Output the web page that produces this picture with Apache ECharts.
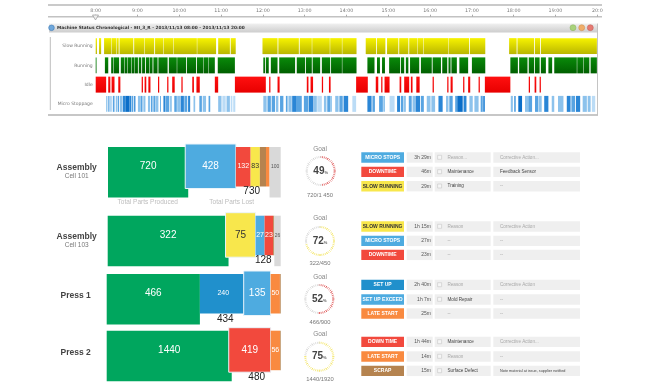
<!DOCTYPE html>
<html>
<head>
<meta charset="utf-8">
<style>
  html, body { margin: 0; padding: 0; background: #fff; }
  /* the source is a soft, upscaled screenshot */
  #chart { width: 653px; height: 392px; filter: blur(0.4px); }
</style>
<script src="https://cdn.jsdelivr.net/npm/echarts@6/dist/echarts.min.js"></script>
</head>
<body>
<div id="chart"></div>
<script>
// machine status timeline, clock hours [start, end]
const timeTicks = ['8:00', '9:00', '10:00', '11:00', '12:00', '13:00', '14:00', '15:00', '16:00', '17:00', '18:00', '19:00', '20:0'];
const statusRows = ['Slow Running', 'Running', 'Idle', 'Micro Stoppage'];

const slowRunning = [
  [8.00, 8.03], [8.08, 8.13], [8.20, 8.37], [8.38, 8.49], [8.50, 8.55], [8.57, 8.90], [8.92, 9.16], [9.17, 9.40],
  [9.42, 9.62], [9.63, 9.86], [9.87, 10.42], [10.43, 10.88], [10.93, 11.21], [11.23, 11.35], [11.99, 12.35],
  [12.37, 12.86], [12.88, 13.17], [13.18, 13.60], [13.61, 13.89], [13.90, 14.24], [14.46, 14.71], [14.73, 14.93],
  [14.97, 15.24], [15.26, 15.48], [15.50, 15.70], [15.71, 15.84], [15.85, 16.44], [16.45, 16.93], [16.95, 17.32],
  [17.89, 18.07], [18.09, 18.49], [18.51, 18.63], [18.65, 19.99]
];
const running = [
  [8.00, 8.02], [8.22, 8.30], [8.37, 8.42], [8.43, 8.56], [8.60, 8.68], [8.69, 8.76], [8.77, 8.85], [8.86, 8.93],
  [8.94, 9.01], [9.03, 9.09], [9.11, 9.18], [9.20, 9.28], [9.29, 9.36], [9.38, 9.48], [9.50, 9.72], [9.75, 9.94],
  [9.95, 10.16], [10.18, 10.40], [10.42, 10.58], [10.59, 10.70], [10.71, 10.85], [10.92, 11.33], [12.01, 12.05],
  [12.07, 12.14], [12.19, 12.35], [12.39, 12.77], [12.81, 13.01], [13.03, 13.17], [13.19, 13.37], [13.41, 13.61],
  [13.63, 13.89], [13.90, 14.24], [14.50, 14.67], [14.73, 14.80], [14.85, 14.92], [15.02, 15.28], [15.30, 15.38],
  [15.42, 15.48], [15.52, 15.74], [15.78, 16.04], [16.06, 16.26], [16.29, 16.41], [16.44, 16.49], [16.51, 16.64],
  [16.70, 16.91], [17.00, 17.32], [17.92, 18.10], [18.13, 18.33], [18.36, 18.49], [18.51, 18.62], [18.65, 18.77],
  [18.83, 18.92], [18.97, 19.51], [19.52, 19.67], [19.68, 19.81], [19.84, 19.99]
];
const idle = [
  [8.00, 8.25], [8.30, 8.35], [8.38, 8.45], [8.54, 8.59], [9.10, 9.13], [9.17, 9.21], [9.26, 9.31], [9.49, 9.52],
  [9.71, 9.74], [9.83, 9.89], [10.05, 10.08], [10.31, 10.35], [10.41, 10.49], [10.85, 10.93], [11.33, 12.07],
  [12.15, 12.18], [12.35, 12.40], [13.05, 13.09], [13.14, 13.20], [13.41, 13.44], [13.58, 13.62], [14.23, 14.51],
  [14.70, 14.76], [14.83, 14.86], [14.91, 15.03], [15.27, 15.31], [15.38, 15.50], [15.54, 15.58], [15.67, 15.75],
  [16.06, 16.09], [16.41, 16.44], [16.49, 16.54], [16.79, 16.82], [16.91, 16.96], [17.16, 17.19], [17.31, 17.92],
  [18.36, 18.39], [18.50, 18.54], [18.62, 18.65]
];
// third number: how many stops fall in the span (1..5)
const microStoppage = [
  [8.25, 8.28, 2], [8.30, 8.33, 3], [8.35, 8.38, 2], [8.41, 8.45, 3], [8.48, 8.52, 2], [8.53, 8.56, 3], [8.58, 8.64, 2],
  [8.65, 8.71, 4], [8.71, 8.81, 5], [8.81, 8.85, 4], [8.86, 8.90, 3], [8.92, 8.95, 4], [9.01, 9.06, 2], [9.07, 9.12, 3],
  [9.14, 9.19, 2], [9.25, 9.30, 2], [9.32, 9.36, 3], [9.38, 9.43, 3], [9.44, 9.50, 2], [9.54, 9.56, 3], [9.62, 9.67, 4],
  [9.68, 9.76, 3], [9.78, 9.82, 2], [9.88, 9.94, 3], [9.95, 10.02, 2], [10.03, 10.11, 4], [10.12, 10.19, 3], [10.21, 10.26, 4],
  [10.34, 10.38, 2], [10.48, 10.54, 3], [10.56, 10.64, 2], [10.70, 10.74, 3], [10.93, 11.01, 2], [11.03, 11.11, 1],
  [11.13, 11.21, 2], [11.23, 11.27, 1], [11.29, 11.34, 1], [12.01, 12.09, 2], [12.11, 12.19, 3], [12.21, 12.29, 3],
  [12.31, 12.37, 2], [12.41, 12.49, 3], [12.55, 12.59, 3], [12.61, 12.69, 2], [12.70, 12.81, 4], [12.81, 12.93, 3],
  [12.98, 13.09, 3], [13.10, 13.21, 4], [13.22, 13.29, 2], [13.30, 13.41, 1], [13.46, 13.52, 2], [13.54, 13.61, 3],
  [13.61, 13.65, 2], [13.73, 13.81, 2], [13.83, 13.91, 3], [13.93, 14.04, 4], [14.14, 14.23, 1], [14.50, 14.60, 4],
  [14.62, 14.68, 3], [14.78, 14.87, 3], [14.88, 14.92, 2], [15.03, 15.15, 1], [15.21, 15.28, 4], [15.30, 15.36, 3],
  [15.37, 15.42, 2], [15.49, 15.56, 3], [15.58, 15.64, 2], [15.65, 15.76, 4], [15.78, 15.85, 3], [15.92, 16.01, 2],
  [16.03, 16.12, 2], [16.20, 16.30, 4], [16.38, 16.44, 2], [16.46, 16.54, 3], [16.60, 16.65, 3], [16.65, 16.78, 5],
  [16.80, 16.87, 4], [16.94, 17.02, 2], [17.06, 17.16, 2], [17.21, 17.26, 3], [17.27, 17.31, 4], [17.93, 17.98, 2],
  [18.01, 18.05, 3], [18.11, 18.20, 5], [18.27, 18.35, 2], [18.35, 18.44, 3], [18.51, 18.59, 3], [18.60, 18.67, 2],
  [18.73, 18.83, 4], [18.91, 18.97, 2], [19.06, 19.19, 2], [19.27, 19.36, 4], [19.38, 19.47, 3], [19.49, 19.59, 4],
  [19.65, 19.75, 2], [19.77, 19.84, 2], [19.87, 19.95, 1]
];

// parts bars: what each block shows, and how long it is drawn
const cell101Labels = ['720', '428', '132', '83', '', '', '100'];
const cell101Lengths = [720, 428, 132, 83, 55, 32, 100];
const cell101Kinds = ['produced', 'micro', 'down', 'slow', 'scrap', 'late', 'open'];

const cell103Labels = ['322', '75', '27', '23', '', '26'];
const cell103Lengths = [322, 72, 24, 23, 3, 17];
const cell103Kinds = ['produced', 'slow', 'micro', 'down', 'scrap', 'open'];

const press1Labels = ['466', '240', '135', '50', ''];
const press1Lengths = [482, 242, 124, 48, 4];
const press1Kinds = ['produced', 'setup', 'micro', 'late', 'scrap'];

const press2Labels = ['1440', '419', '56', ''];
const press2Lengths = [1440, 449, 107, 8];
const press2Kinds = ['produced', 'down', 'late', 'scrap'];

const lostTotals = ['730', '128', '434', '480'];
const goalPercents = [49, 72, 52, 75];
const goalTexts = ['720/1 450', '322/450', '466/900', '1440/1920'];

// reason table
const badgeNames = ['MICRO STOPS', 'DOWNTIME', 'SLOW RUNNING', 'SLOW RUNNING', 'MICRO STOPS', 'DOWNTIME', 'SET UP', 'SET UP EXCEED', 'LATE START', 'DOWN TIME', 'LATE START', 'SCRAP'];
const badgeKinds = ['micro', 'down', 'slow', 'slow', 'micro', 'down', 'setup', 'micro', 'late', 'down', 'late', 'scrap'];
const durations = ['3h 29m', '46m', '29m', '1h 15m', '27m', '23m', '2h 40m', '1h 7m', '25m', '1h 44m', '14m', '15m'];
const reasons = ['Reason...', 'Maintenance', 'Training', 'Reason', '--', '--', 'Reason', 'Mold Repair', '--', 'Maintenance', 'Reason', 'Surface Defect'];
const actions = ['Corrective Action...', 'Feedback Sensor', '--', 'Corrective Action', '--', '--', 'Corrective Action', '--', '--', 'Corrective Action...', '--', 'Note material at issue, supplier notified'];

const colors = {
  produced: '#00A65E',
  micro: '#4EABE0',
  setup: '#2090CC',
  down: '#F2493D',
  slow: '#F8E74C',
  scrap: '#B5834F',
  late: '#F98A40',
  open: '#D9D9D9'
};
const stopShades = ['#BBDCF6', '#8CC2EC', '#58A4E2', '#2A86D6', '#0A6EC8'];
const sans = '"Liberation Sans", Arial, sans-serif';

const gradient = (top, bottom) => new echarts.graphic.LinearGradient(0, 0, 0, 1, [
  { offset: 0, color: top },
  { offset: 1, color: bottom }
]);
const rowFills = [
  gradient('#F7F300', '#B9B600'),
  gradient('#0A8A0A', '#005F00'),
  gradient('#FF1010', '#E80000')
];

function renderSpan(params, api) {
  const row = api.value(2);
  const a = api.coord([api.value(0), row]);
  const b = api.coord([api.value(1), row]);
  const h = api.size([0, 1])[1] * 0.83;
  const count = api.value(3);
  return {
    type: 'rect',
    shape: { x: a[0], y: a[1] - h / 2, width: b[0] - a[0], height: h },
    style: { fill: row === 3 ? stopShades[count - 1] : rowFills[row] }
  };
}

function spanSeries(spans, row) {
  return {
    type: 'custom',
    xAxisIndex: 0,
    yAxisIndex: 0,
    silent: true,
    renderItem: renderSpan,
    encode: { x: [0, 1], y: 2 },
    data: spans.map(s => [s[0], s[1], row, s[2] || 0])
  };
}

// one stacked row of blocks. produced runs taller, the biggest loss pops out
function partsSeries(axis, lengths, labels, kinds, pop) {
  const data = [];
  let sum = 0;
  lengths.forEach((len, i) => {
    data.push([sum, sum + len, i]);
    sum += len;
  });
  return {
    type: 'custom',
    xAxisIndex: axis,
    yAxisIndex: axis,
    silent: true,
    renderItem(params, api) {
      const i = api.value(2);
      const kind = kinds[i];
      const x0 = api.coord([api.value(0), 0])[0];
      const x1 = api.coord([api.value(1), 0])[0];
      const top = params.coordSys.y;
      let y = top, h = 39.5, left = x0, stroke = null;
      if (kind === 'produced' || kind === 'open') h = 50.5;
      if (i === pop) {
        y = top - 3;
        h = 44.5;
        left = x0 - 3;
        stroke = '#EAF4FA';
      }
      const big = kind === 'produced' || i === pop;
      return {
        type: 'group',
        z2: i === pop ? 5 : 1,
        children: [
          {
            type: 'rect',
            shape: { x: left, y, width: x1 - left, height: h },
            style: { fill: colors[kind], stroke, lineWidth: 1 }
          },
          {
            type: 'text',
            z2: 6,
            style: {
              x: (left + x1) / 2,
              y: top + 19.5,
              text: labels[i],
              align: 'center',
              verticalAlign: 'middle',
              fontFamily: sans,
              fontSize: big ? 10 : (kind === 'open' ? 5 : 7),
              fill: kind === 'slow' ? '#333' : (kind === 'open' ? '#555' : '#fff')
            }
          }
        ]
      };
    },
    data
  };
}

function gaugeSeries(percent, color, x, y) {
  return {
    type: 'gauge',
    silent: true,
    center: [x, y],
    radius: 15,
    min: 0,
    max: 100,
    startAngle: 90,
    endAngle: -270,
    splitNumber: 12,
    pointer: { show: false },
    progress: { show: false },
    anchor: { show: false },
    title: { show: false },
    axisLine: { show: false, lineStyle: { width: 0, color: [[percent / 100, color], [1, '#D5D5D5']] } },
    splitLine: { show: false },
    axisLabel: { show: false },
    axisTick: { splitNumber: 4, distance: 0, length: 2, lineStyle: { color: 'auto', width: 0.8 } },
    detail: {
      offsetCenter: [0, 0],
      formatter: v => `{v|${v}}{u|%}`,
      rich: {
        v: { fontFamily: sans, fontSize: 10, color: '#444' },
        u: { fontFamily: sans, fontSize: 4, color: '#666', padding: [3, 0, 0, 0] }
      }
    },
    data: [{ value: percent }]
  };
}

const txt = (x, y, text, fontSize, fill, extra) => ({
  type: 'text',
  z: 10,
  silent: true,
  style: Object.assign({ x, y, text, fontSize, fill, fontFamily: sans, align: 'center', verticalAlign: 'middle' }, extra)
});
const box = (x, y, width, height, fill, extra) => ({
  type: 'rect',
  silent: true,
  shape: { x, y, width, height },
  style: Object.assign({ fill }, extra)
});

// top panel furniture
const graphics = [
  box(48, 4.2, 554, 1.6, '#B9B9B9'),
  box(48, 16, 554, 1.4, '#C2C2C2'),
  { type: 'polygon', silent: true, z: 5, shape: { points: [[92.5, 15], [98.5, 15], [95.5, 20]] }, style: { fill: '#eee', stroke: '#999', lineWidth: 0.7 } },
  box(49, 23.5, 548, 9, gradient('#F0F0F0', '#CDCDCD')),
  box(597, 23.5, 1, 91, '#C4C4C4'),
  box(48, 114.2, 550, 1.6, '#B5B5B5'),
  { type: 'circle', silent: true, shape: { cx: 51.5, cy: 27.8, r: 2.8 }, style: { fill: '#6FA8DC', stroke: '#3D78B5', lineWidth: 0.6 } },
  txt(57, 28, 'Machine Status Chronological - EII_3_R - 2013/11/13 08:00 - 2013/11/13 20:00', 4.3, '#333', { align: 'left', fontWeight: 'bold', fontFamily: '"DejaVu Sans", sans-serif' }),
  { type: 'circle', silent: true, shape: { cx: 573, cy: 27.7, r: 3 }, style: { fill: '#A8D27A', stroke: '#8AB060', lineWidth: 0.5 } },
  { type: 'circle', silent: true, shape: { cx: 581.7, cy: 27.7, r: 3 }, style: { fill: '#F0AE6A', stroke: '#C98C4C', lineWidth: 0.5 } },
  { type: 'circle', silent: true, shape: { cx: 590.3, cy: 27.7, r: 3 }, style: { fill: '#E67A72', stroke: '#BF5A54', lineWidth: 0.5 } },
  box(49.8, 37, 1, 73, '#BDBDBD'),
  txt(147.7, 202.7, 'Total Parts Produced', 6.5, '#BDBDBD'),
  txt(231.7, 202.7, 'Total Parts Lost', 6.5, '#BDBDBD')
];

// row titles on the left
[['Assembly', 76.7, 167.3], ['Assembly', 76.7, 236.7], ['Press 1', 75.7, 295.7], ['Press 2', 75.7, 353]].forEach(t => {
  graphics.push(txt(t[1], t[2], t[0], 8.5, '#444', { fontWeight: 'bold' }));
});
graphics.push(txt(76.7, 175.9, 'Cell 101', 6.5, '#777'));
graphics.push(txt(76.7, 245.7, 'Cell 103', 6.5, '#777'));

// lost totals under the small blocks
[[251.7, 191.7], [263.3, 260], [225.3, 319.3], [256.7, 377]].forEach((p, i) => {
  graphics.push(txt(p[0], p[1], lostTotals[i], 10, '#222'));
});

// goal captions
[[149.7, 195], [218.3, 263], [277, 322], [334, 379.7]].forEach((p, i) => {
  graphics.push(txt(320, p[0], 'Goal', 6.5, '#888'));
  graphics.push(txt(320, p[1], goalTexts[i], 5.8, '#777'));
});

// reason table
const tableTops = [152.3, 166.7, 181, 221.3, 235.7, 249.7, 279.7, 294.3, 308.3, 336.7, 351.3, 365.7];
badgeNames.forEach((name, i) => {
  const y = tableTops[i];
  const mid = y + 5.2;
  const placeholder = /^(Reason|Corrective|--)/;
  const noCheck = reasons[i] === '--';
  graphics.push(box(361.3, y, 42.7, 10.4, colors[badgeKinds[i]]));
  graphics.push(txt(382.6, mid, name, 5, badgeKinds[i] === 'slow' ? '#333' : '#fff', { fontWeight: 'bold' }));
  graphics.push(box(406.7, y, 26, 10.4, '#EFEFEF'));
  graphics.push(txt(431, mid, durations[i], 5, '#555', { align: 'right' }));
  graphics.push(box(434.7, y, 56, 10.4, '#EFEFEF'));
  graphics.push(box(493.3, y, 86.7, 10.4, '#EFEFEF'));
  if (!noCheck) {
    graphics.push(box(437.6, y + 3, 4, 4, '#F6F6F6', { stroke: '#C8C8C8', lineWidth: 0.6 }));
  }
  graphics.push(txt(447.5, mid, reasons[i], 4.6, placeholder.test(reasons[i]) ? '#A8A8A8' : '#444', { align: 'left' }));
  graphics.push(txt(500, mid, actions[i], actions[i].length > 30 ? 3.8 : 4.6, placeholder.test(actions[i]) ? '#A8A8A8' : '#444', { align: 'left' }));
});

const partsRows = [
  { left: 108, top: 147, width: 172.7, max: 1550 },
  { left: 107.7, top: 215.7, width: 173, max: 461 },
  { left: 106.7, top: 274, width: 174, max: 900 },
  { left: 106.7, top: 330.7, width: 174, max: 2004 }
];

const option = {
  animation: false,
  backgroundColor: '#fff',
  grid: [
    { left: 95.7, top: 36.5, width: 501.6, height: 77 },
    { left: 95.7, top: 16.7, width: 501.6, height: 0 },
    ...partsRows.map(r => ({ left: r.left, top: r.top, width: r.width, height: 50 }))
  ],
  xAxis: [
    { gridIndex: 0, type: 'value', min: 8, max: 20, show: false },
    {
      gridIndex: 1,
      type: 'value',
      min: 8,
      max: 20,
      interval: 1,
      position: 'top',
      axisLine: { show: false },
      axisTick: { length: 2, lineStyle: { color: '#AAAAAA', width: 1 } },
      splitLine: { show: false },
      axisLabel: {
        margin: 3,
        fontSize: 4.8,
        color: '#777',
        fontFamily: '"DejaVu Sans", sans-serif',
        hideOverlap: false,
        showMinLabel: true,
        showMaxLabel: true,
        formatter: v => timeTicks[v - 8]
      }
    },
    ...partsRows.map((r, i) => ({ gridIndex: i + 2, type: 'value', min: 0, max: r.max, show: false }))
  ],
  yAxis: [
    {
      gridIndex: 0,
      type: 'category',
      inverse: true,
      data: statusRows,
      axisLine: { show: false },
      axisTick: { show: false },
      axisLabel: { margin: 3, fontSize: 4.5, color: '#777', fontFamily: '"DejaVu Sans", sans-serif' }
    },
    { gridIndex: 1, type: 'value', show: false },
    ...partsRows.map((r, i) => ({ gridIndex: i + 2, type: 'category', data: ['parts'], show: false }))
  ],
  series: [
    spanSeries(slowRunning, 0),
    spanSeries(running, 1),
    spanSeries(idle, 2),
    spanSeries(microStoppage, 3),
    // empty series keeps the tick axis alive
    { type: 'line', xAxisIndex: 1, yAxisIndex: 1, data: [], silent: true },
    partsSeries(2, cell101Lengths, cell101Labels, cell101Kinds, 1),
    partsSeries(3, cell103Lengths, cell103Labels, cell103Kinds, 1),
    partsSeries(4, press1Lengths, press1Labels, press1Kinds, 2),
    partsSeries(5, press2Lengths, press2Labels, press2Kinds, 1),
    gaugeSeries(goalPercents[0], '#E05A5A', 320.7, 171),
    gaugeSeries(goalPercents[1], '#F4E66A', 320, 241),
    gaugeSeries(goalPercents[2], '#E05A5A', 319.3, 299),
    gaugeSeries(goalPercents[3], '#F4E66A', 319.3, 356.7)
  ],
  graphic: graphics
};

const myChart = echarts.init(document.getElementById('chart'));
myChart.setOption(option);
</script>
</body>
</html>
